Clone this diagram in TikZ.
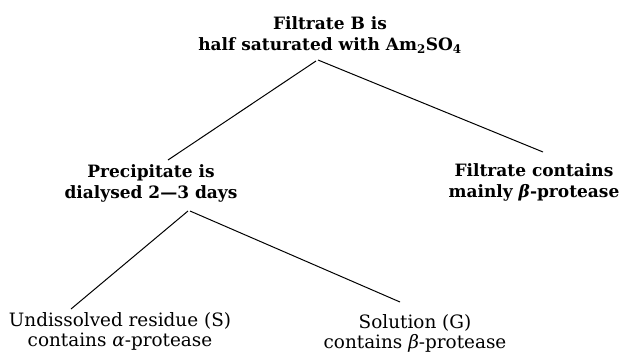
\documentclass[tikz,border=0pt]{standalone}
\usepackage{fontspec}
\setmainfont{DejaVu Serif}
\begin{document}
\begin{tikzpicture}[x=1pt,y=-1pt,
  lbl/.style={align=center,inner sep=0pt,font=\fontsize{18.4}{20}\selectfont},
  blbl/.style={align=center,inner sep=0pt,font=\fontsize{17}{21}\selectfont\bfseries},
  edge/.style={line width=1pt}]
\useasboundingbox (0,0) rectangle (622,354);
\node[blbl] (top) at (330,35) {Filtrate B is\\half saturated with Am\textsubscript{2}SO\textsubscript{4}};
\node[blbl] (prec) at (151,183) {Precipitate is\\dialysed 2—3 days};
\node[blbl] (filt) at (534,182) {Filtrate contains\\mainly \textit{β}-protease};
\node[lbl] (res) at (120,331) {Undissolved residue (S)\\contains \textit{α}-protease};
\node[lbl] (sol) at (415,333) {Solution (G)\\contains \textit{β}-protease};
\coordinate (topL) at (316,61);
\coordinate (topR) at (318,60);
\coordinate (precT) at (168,160);
\coordinate (filtT) at (543,152);
\coordinate (precL) at (188,211);
\coordinate (precR) at (190,211);
\coordinate (resT) at (71,309);
\coordinate (solT) at (400,302);
\draw[edge] (topL) -- (precT);
\draw[edge] (topR) -- (filtT);
\draw[edge] (precL) -- (resT);
\draw[edge] (precR) -- (solT);
\end{tikzpicture}
\end{document}
